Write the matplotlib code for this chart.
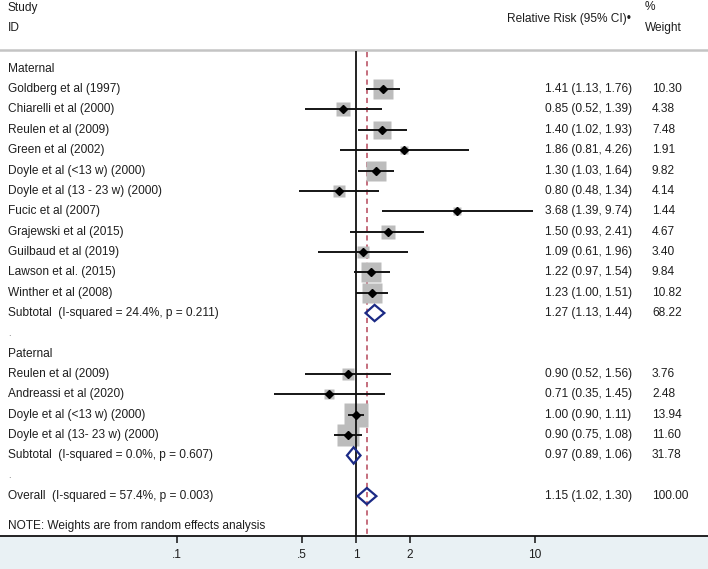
import matplotlib
matplotlib.use("Agg")
import matplotlib.pyplot as plt
import numpy as np
from matplotlib.patches import Polygon
from matplotlib.ticker import FixedLocator, NullLocator

# ---------------- data ----------------
maternal_names = ["Goldberg et al (1997)", "Chiarelli et al (2000)", "Reulen et al (2009)",
                  "Green et al (2002)", "Doyle et al (<13 w) (2000)", "Doyle et al (13 - 23 w) (2000)",
                  "Fucic et al (2007)", "Grajewski et al (2015)", "Guilbaud et al (2019)",
                  "Lawson et al. (2015)", "Winther et al (2008)"]
maternal_rr = [1.41, 0.85, 1.40, 1.86, 1.30, 0.80, 3.68, 1.50, 1.09, 1.22, 1.23]
maternal_lo = [1.13, 0.52, 1.02, 0.81, 1.03, 0.48, 1.39, 0.93, 0.61, 0.97, 1.00]
maternal_hi = [1.76, 1.39, 1.93, 4.26, 1.64, 1.34, 9.74, 2.41, 1.96, 1.54, 1.51]
maternal_w = [10.30, 4.38, 7.48, 1.91, 9.82, 4.14, 1.44, 4.67, 3.40, 9.84, 10.82]
maternal_sub = ("Subtotal  (I-squared = 24.4%, p = 0.211)", 1.27, 1.13, 1.44, 68.22)

paternal_names = ["Reulen et al (2009)", "Andreassi et al (2020)", "Doyle et al (<13 w) (2000)",
                  "Doyle et al (13- 23 w) (2000)"]
paternal_rr = [0.90, 0.71, 1.00, 0.90]
paternal_lo = [0.52, 0.35, 0.90, 0.75]
paternal_hi = [1.56, 1.45, 1.11, 1.08]
paternal_w = [3.76, 2.48, 13.94, 11.60]
paternal_sub = ("Subtotal  (I-squared = 0.0%, p = 0.607)", 0.97, 0.89, 1.06, 31.78)

overall = ("Overall  (I-squared = 57.4%, p = 0.003)", 1.15, 1.02, 1.30, 100.00)

tick_values = [0.1, 0.5, 1, 2, 10]
tick_labels = [".1", ".5", "1", "2", "10"]

# ---------------- layout ----------------
W, H = 708, 569
px_one = 356.0          # pixel x of RR = 1
px_decade = 179.0       # pixels per decade
row0_px = 68.8          # pixel y of first row
pitch = 20.35           # row pitch in pixels
axis_px = 536.0         # pixel y of bottom axis line

plt.rcParams['font.family'] = ['Liberation Sans', 'DejaVu Sans']
TXT = '#1e1e1e'
FS = 8.6
SQ = '#bcbcbc'
NAVY = '#1b2a85'
RED = '#b5475a'

fig = plt.figure(figsize=(W / 100, H / 100), dpi=100)
fig.patch.set_facecolor('#e9f1f4')
ax = fig.add_axes([0, (H - axis_px) / H, 1, axis_px / H])
ax.set_facecolor('white')
ax.set_xscale('log')
ax.set_xlim(10 ** (-px_one / px_decade), 10 ** ((W - px_one) / px_decade))
def prow(p):
    return (p - row0_px) / pitch
ax.set_ylim(prow(axis_px), prow(0))

tr = ax.get_yaxis_transform()
x_left = 8 / W
x_est = 545 / W
x_w = 652 / W

def study_row(r, name, rr, lo, hi, w):
    side = 6.23 * np.sqrt(w) * 0.72
    ax.plot([rr], [r], marker='s', ms=side, mfc=SQ, mec='none', zorder=2, ls='none')
    ax.plot([lo, hi], [r, r], color='#151515', lw=1.4, zorder=3, solid_capstyle='butt')
    ax.plot([rr], [r], marker='D', ms=4.2, color='black', zorder=4, ls='none')
    ax.text(x_left, r, name, transform=tr, ha='left', va='center', fontsize=FS, color=TXT)
    ax.text(x_est, r, f"{rr:.2f} ({lo:.2f}, {hi:.2f})", transform=tr, ha='left', va='center',
            fontsize=FS, color=TXT)
    ax.text(x_w, r, f"{w:.2f}", transform=tr, ha='left', va='center', fontsize=FS, color=TXT)

def diamond_row(r, item):
    name, rr, lo, hi, w = item
    h = 0.4
    poly = Polygon([[lo, r], [rr, r - h], [hi, r], [rr, r + h]], closed=True,
                   facecolor='none', edgecolor=NAVY, lw=1.6, zorder=5, joinstyle='miter')
    ax.add_patch(poly)
    ax.text(x_left, r, name, transform=tr, ha='left', va='center', fontsize=FS, color=TXT)
    ax.text(x_est, r, f"{rr:.2f} ({lo:.2f}, {hi:.2f})", transform=tr, ha='left', va='center',
            fontsize=FS, color=TXT)
    ax.text(x_w, r, f"{w:.2f}", transform=tr, ha='left', va='center', fontsize=FS, color=TXT)

r = 0
ax.text(x_left, r, "Maternal", transform=tr, ha='left', va='center', fontsize=FS, color=TXT)
r += 1
for i in range(len(maternal_names)):
    study_row(r, maternal_names[i], maternal_rr[i], maternal_lo[i], maternal_hi[i], maternal_w[i])
    r += 1
diamond_row(r, maternal_sub)
r += 1
ax.text(x_left, r, ".", transform=tr, ha='left', va='center', fontsize=FS - 2, color='#888888')
r += 1
ax.text(x_left, r, "Paternal", transform=tr, ha='left', va='center', fontsize=FS, color=TXT)
r += 1
for i in range(len(paternal_names)):
    study_row(r, paternal_names[i], paternal_rr[i], paternal_lo[i], paternal_hi[i], paternal_w[i])
    r += 1
diamond_row(r, paternal_sub)
r += 1
ax.text(x_left, r, ".", transform=tr, ha='left', va='center', fontsize=FS - 2, color='#888888')
r += 1
diamond_row(r, overall)

ax.text(x_left, prow(526), "NOTE: Weights are from random effects analysis", transform=tr,
        ha='left', va='center', fontsize=FS, color=TXT)

# header
ax.text(x_left, prow(8), "Study", transform=tr, ha='left', va='center', fontsize=FS, color=TXT)
ax.text(x_left, prow(28), "ID", transform=tr, ha='left', va='center', fontsize=FS, color=TXT)
ax.text(507 / W, prow(19), "Relative Risk (95% CI)\u2022", transform=tr, ha='left', va='center',
        fontsize=FS, color=TXT)
ax.text(645 / W, prow(7), "%", transform=tr, ha='left', va='center', fontsize=FS, color=TXT)
ax.text(645 / W, prow(28), "Weight", transform=tr, ha='left', va='center', fontsize=FS, color=TXT)

# reference lines
ax.axhline(prow(50.5), color='#c4c4c4', lw=1.8, zorder=1)
ax.vlines(1, prow(51), prow(axis_px), color='#111111', lw=1.3, zorder=3)
ax.vlines(overall[1], prow(52), prow(axis_px), color=RED, lw=1.1, linestyles=(0, (3.4, 2.6)), zorder=1)

# axes styling
for s in ['top', 'left', 'right']:
    ax.spines[s].set_visible(False)
ax.spines['bottom'].set_color('#111111')
ax.spines['bottom'].set_linewidth(1.3)
ax.yaxis.set_visible(False)
ax.xaxis.set_major_locator(FixedLocator(tick_values))
ax.xaxis.set_minor_locator(NullLocator())
ax.set_xticklabels(tick_labels)
ax.tick_params(axis='x', direction='out', length=5, width=1.1, color='#111111',
               labelsize=FS, labelcolor=TXT, pad=4)

fig.savefig('out.png', dpi=100, facecolor=fig.get_facecolor())
